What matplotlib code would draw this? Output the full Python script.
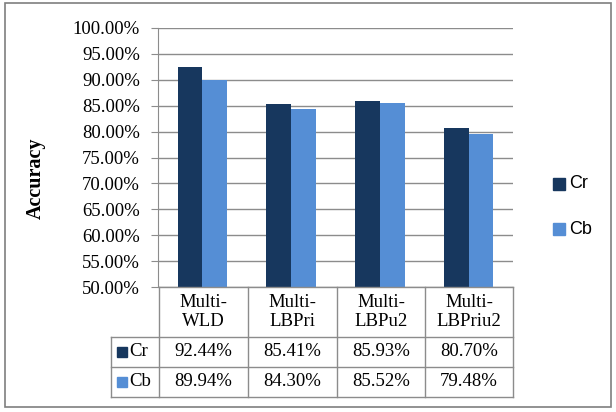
import matplotlib
matplotlib.use("Agg")
import matplotlib.pyplot as plt
from matplotlib.patches import Rectangle
from matplotlib.lines import Line2D

categories = ["Multi-\nWLD", "Multi-\nLBPri", "Multi-\nLBPu2", "Multi-\nLBPriu2"]
series_names = ["Cr", "Cb"]
cr_values = [92.44, 85.41, 85.93, 80.70]
cb_values = [89.94, 84.30, 85.52, 79.48]
y_ticks = [50, 55, 60, 65, 70, 75, 80, 85, 90, 95, 100]

colors = ["#17375E", "#558ED5"]
grid_color = "#8C8C8C"
serif = ["Liberation Serif", "DejaVu Serif"]
sans = ["Liberation Sans", "DejaVu Sans"]
fs = 13.5

W, H = 616, 412
fig = plt.figure(figsize=(W / 100, H / 100), dpi=100)

def fx(px):
    return px / W

def fy(py):
    return 1 - py / H

# plot area in pixel coordinates
left, right, top, bottom = 158, 513, 28, 287
ax = fig.add_axes([fx(left), fy(bottom), fx(right) - fx(left), fy(top) - fy(bottom)])

n = len(categories)
xs = list(range(n))
bw = 0.28
ax.bar([x - bw / 2 for x in xs], cr_values, width=bw, color=colors[0], zorder=3)
ax.bar([x + bw / 2 for x in xs], cb_values, width=bw, color=colors[1], zorder=3)

ax.set_xlim(-0.5, n - 0.5)
ax.set_ylim(50, 100)
ax.set_yticks(y_ticks)
ax.set_yticklabels([f"{t:.2f}%" for t in y_ticks], fontfamily=serif, fontsize=fs)
ax.set_xticks([])
ax.yaxis.grid(True, color=grid_color, linewidth=1.0, zorder=0)
for s in ["top", "right", "bottom"]:
    ax.spines[s].set_visible(False)
ax.spines["left"].set_color(grid_color)
ax.tick_params(axis="y", length=5, color=grid_color, pad=8)

fig.text(fx(36), fy(178), "Accuracy", rotation=90,
         fontfamily=serif, fontsize=14.5, fontweight="bold", va="center", ha="center")

# data table beneath the plot
col_edges = [159, 248, 337, 425, 513]
row_edges = [287, 337, 367, 397]
label_left = 111

def hline(x0, x1, y):
    fig.add_artist(Line2D([fx(x0), fx(x1)], [fy(y), fy(y)], color=grid_color, linewidth=1.0))

def vline(x, y0, y1):
    fig.add_artist(Line2D([fx(x), fx(x)], [fy(y0), fy(y1)], color=grid_color, linewidth=1.0))

hline(col_edges[0], col_edges[-1], row_edges[0])
for y in row_edges[1:]:
    hline(label_left, col_edges[-1], y)
for x in col_edges:
    vline(x, row_edges[0], row_edges[-1])
vline(label_left, row_edges[1], row_edges[-1])

for i, cat in enumerate(categories):
    cx = (col_edges[i] + col_edges[i + 1]) / 2
    cy = (row_edges[0] + row_edges[1]) / 2
    fig.text(fx(cx), fy(cy), cat, ha="center", va="center", fontfamily=serif,
             fontsize=fs, linespacing=1.1)

for r, (name, vals) in enumerate(zip(series_names, [cr_values, cb_values])):
    y0, y1 = row_edges[r + 1], row_edges[r + 2]
    cy = (y0 + y1) / 2
    fig.add_artist(Rectangle((fx(117), fy(cy + 5)), fx(10), fy(0) - fy(10),
                             color=colors[r], transform=fig.transFigure))
    fig.text(fx(129), fy(cy), name, ha="left", va="center", fontfamily=serif, fontsize=fs)
    for i, v in enumerate(vals):
        cx = (col_edges[i] + col_edges[i + 1]) / 2
        fig.text(fx(cx), fy(cy), f"{v:.2f}%", ha="center", va="center",
                 fontfamily=serif, fontsize=fs)

# legend on the right
for r, (name, ly) in enumerate(zip(series_names, [184, 229])):
    fig.add_artist(Rectangle((fx(553), fy(ly + 6)), fx(12), fy(0) - fy(12),
                             color=colors[r], transform=fig.transFigure))
    fig.text(fx(569), fy(ly), name, ha="left", va="center", fontfamily=sans, fontsize=13)

# outer chart border
fig.add_artist(Rectangle((fx(5), fy(407)), fx(606), fy(0) - fy(404), fill=False,
                         edgecolor="#7F7F7F", linewidth=1.2, transform=fig.transFigure))

fig.savefig("out.png", dpi=100, facecolor="white")
